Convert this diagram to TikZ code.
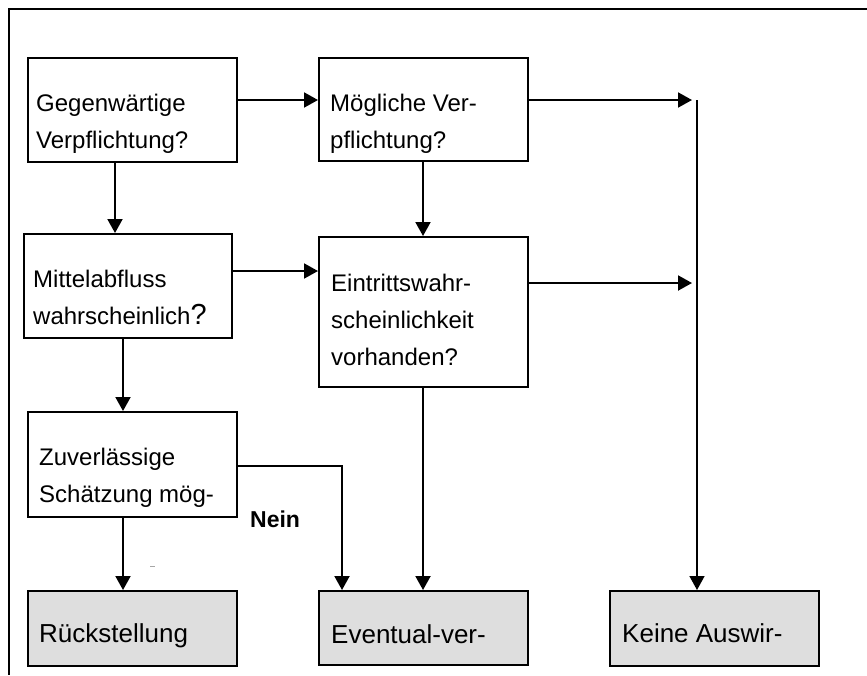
\documentclass[tikz,border=0pt]{standalone}
\usepackage{fontspec}
\setmainfont{Liberation Sans}
\usetikzlibrary{arrows.meta}
\begin{document}
\begin{tikzpicture}[x=1pt,y=-1pt,
  box/.style={draw, line width=1.9pt, anchor=north west, inner sep=0pt, minimum width=209pt},
  endbox/.style={box, fill=black!13},
  txt/.style={anchor=base west, inner sep=0pt, font=\fontsize{24}{28}\selectfont},
  bigtxt/.style={txt, font=\fontsize{26}{30}\selectfont},
  arr/.style={line width=2pt, -{Triangle[length=14pt,width=15pt]}},
  thinarr/.style={arr, line width=1.5pt},
  framestyle/.style={line width=2pt}]
\useasboundingbox (0,0) rectangle (867,675);
% frame
\draw[framestyle] (867,9) -- (9,9) -- (9,675);
% boxes
\node[box, minimum height=104pt] (b1) at (27,57) {};
\node[box, minimum height=103pt] (b2) at (318,57) {};
\node[box, minimum width=208pt, minimum height=104pt] (b3) at (23,233) {};
\node[box, minimum height=150pt] (b4) at (318,236) {};
\node[box, minimum height=105pt] (b5) at (27,411) {};
\node[endbox, minimum height=75pt] (r1) at (27,590) {};
\node[endbox, minimum height=74pt] (r2) at (318,590) {};
\node[endbox, minimum height=75pt] (r3) at (609,590) {};
% texts
\node[txt] (t1a) at (36,111) {Gegenwärtige};
\node[txt] (t1b) at (36,148) {Verpflichtung?};
\node[txt] (t2a) at (330,111) {Mögliche Ver-};
\node[txt] (t2b) at (330,148) {pflichtung?};
\node[txt] (t3a) at (33,287) {Mittelabfluss};
\node[txt] (t3b) at (33,324) {wahrscheinlich{\fontsize{29}{30}\selectfont ?}};
\node[txt] (t4a) at (331,291) {Eintrittswahr-};
\node[txt] (t4b) at (331,328) {scheinlichkeit};
\node[txt] (t4c) at (331,365) {vorhanden?};
\node[txt] (t5a) at (39,465) {Zuverlässige};
\node[txt] (t5b) at (39,502) {Schätzung mög-};
\node[bigtxt] (tr1) at (39,642) {Rückstellung};
\node[bigtxt] (tr2) at (331,643) {Eventual-ver-};
\node[bigtxt] (tr3) at (622,642) {Keine Auswir-};
\node[txt, font=\fontsize{23}{28}\selectfont\bfseries] (nein) at (250,527) {Nein};
% helper coordinates
\coordinate (ya) at (0,100);
\coordinate (yb) at (0,271);
\coordinate (yc) at (0,466);
\coordinate (ka) at (692,100);
\coordinate (kb) at (692,283);
\coordinate (kv) at (697,100);
\coordinate (xa) at (115,0);
\coordinate (xb) at (123,0);
\coordinate (xc) at (423,0);
\coordinate (xd) at (342,0);
% connectors
\draw[arr] (b1.east |- ya) -- (b2.west |- ya);
\draw[arr] (b2.east |- ka) -- (ka);
\draw[arr] (b4.east |- kb) -- (kb);
\draw[thinarr] (kv) -- (kv |- r3.north);
\draw[arr] (b1.south -| xa) -- (b3.north -| xa);
\draw[arr] (b2.south -| xc) -- (b4.north -| xc);
\draw[arr] (b3.east |- yb) -- (b4.west |- yb);
\draw[arr] (b3.south -| xb) -- (b5.north -| xb);
\draw[arr] (b5.south -| xb) -- (r1.north -| xb);
\draw[arr] (b4.south -| xc) -- (r2.north -| xc);
\draw[arr] (b5.east |- yc) -| (r2.north -| xd);
% faint mark
\draw[black!35, line width=1pt] (150,566) -- (155,566);
\end{tikzpicture}
\end{document}
